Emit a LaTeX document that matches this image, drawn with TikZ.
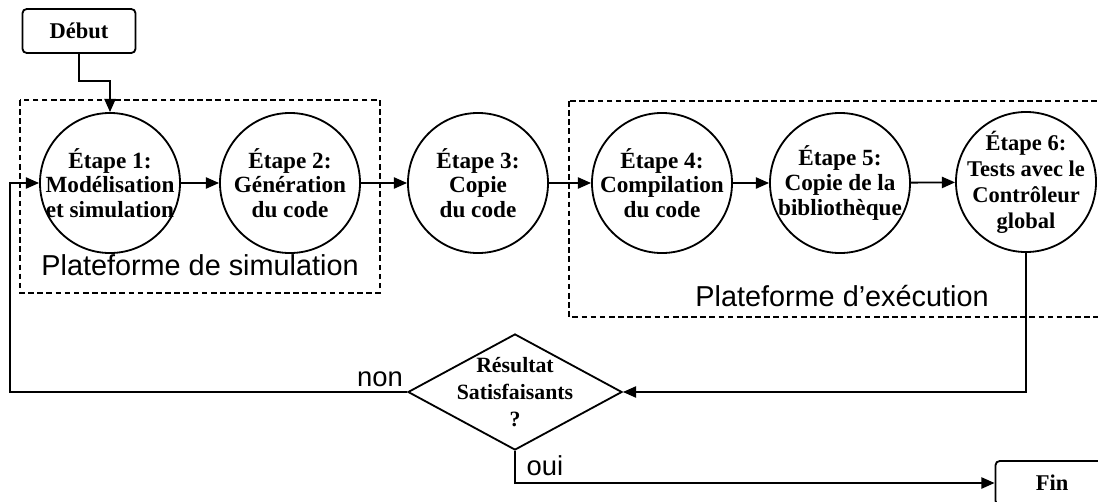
\documentclass[tikz,border=0pt]{standalone}
\usepackage{fontspec}
\setmainfont{Liberation Serif}
\setsansfont{Liberation Sans}
\usetikzlibrary{arrows.meta,shapes.geometric}

\tikzset{
  etape/.style = {circle, draw, minimum size = 3.5cm, inner sep = 0pt},
  etapetxt/.style = {align = center, inner sep = 0pt, font = \bfseries\fontsize{16.5}{17.5}\selectfont},
  boite/.style = {draw, rounded corners = 3pt, minimum width = 2.825cm, minimum height = 1.1cm, font = \bfseries\fontsize{16}{18}\selectfont},
  fleche/.style = {-{Triangle[length = 0.33cm, width = 0.28cm]}},
  cadre/.style = {line width = 1pt, dash pattern = on 4pt off 2.5pt},
  plateforme/.style = {font = \sffamily\fontsize{20.5}{22}\selectfont, anchor = base},
  etiq/.style = {font = \sffamily\fontsize{19.5}{20}\selectfont, anchor = base}
}

\begin{document}
\begin{tikzpicture}[x = 0.025cm, y = -0.025cm, line width = 1.3pt]
\useasboundingbox (0,0) rectangle (1098,501);
\clip (0,0) rectangle (1098,501);
% les deux plateformes
\draw [cadre] (20,100) rectangle (380,293);
\draw [cadre] (569,101) rectangle (1115,317);
\node [plateforme] (psim) at (200,275) {Plateforme de simulation};
\node [plateforme] (pexe) at (842,306) {Plateforme d’exécution};
% les etapes
\draw (79,31) node[boite](debut){Début}
    (110,183) node[etape, label = {[etapetxt]center:{Étape 1:\\Modélisation\\et simulation}}](e1){}
    (290,183) node[etape, label = {[etapetxt]center:{Étape 2:\\Génération\\du code}}](e2){}
    (478,183) node[etape, label = {[etapetxt]center:{Étape 3:\\Copie\\du code}}](e3){}
    (662,183) node[etape, label = {[etapetxt]center:{Étape 4:\\Compilation\\du code}}](e4){}
    (840,183) node[etape, label = {[etapetxt]center:{Étape 5:\\Copie de la\\bibliothèque}}](e5){}
    (1026,182) node[etape, label = {[etapetxt, font = \bfseries\fontsize{16}{18.5}\selectfont]center:{Étape 6:\\Tests avec le\\Contrôleur\\global}}](e6){}
    (515,392) node[diamond, draw, minimum width = 5.35cm, minimum height = 2.9cm, inner sep = 0pt,
        label = {[etapetxt, font = \bfseries\fontsize{15.5}{19}\selectfont]center:{Résultat\\Satisfaisants\\?}}](test){}
    (1052,483) node[boite](fin){Fin};
\coordinate (retour) at (10,392);
% les liens
\draw [fleche] (debut.south) -- ++(0,27) -| (e1.north);
\draw [fleche] (e1) -- (e2);
\draw [fleche] (e2) -- (e3);
\draw [fleche] (e3) -- (e4);
\draw [fleche] (e4) -- (e5);
\draw [fleche] (e5) -- (e6);
\draw [fleche] (e6.south) |- (test.east);
\draw [fleche] (test.west) -- (retour) |- (e1.west);
\draw [fleche] (test.south) |- (fin.west);
\node [etiq] (non) at (380,386) {non};
\node [etiq] (oui) at (545,475) {oui};
\end{tikzpicture}
\end{document}
